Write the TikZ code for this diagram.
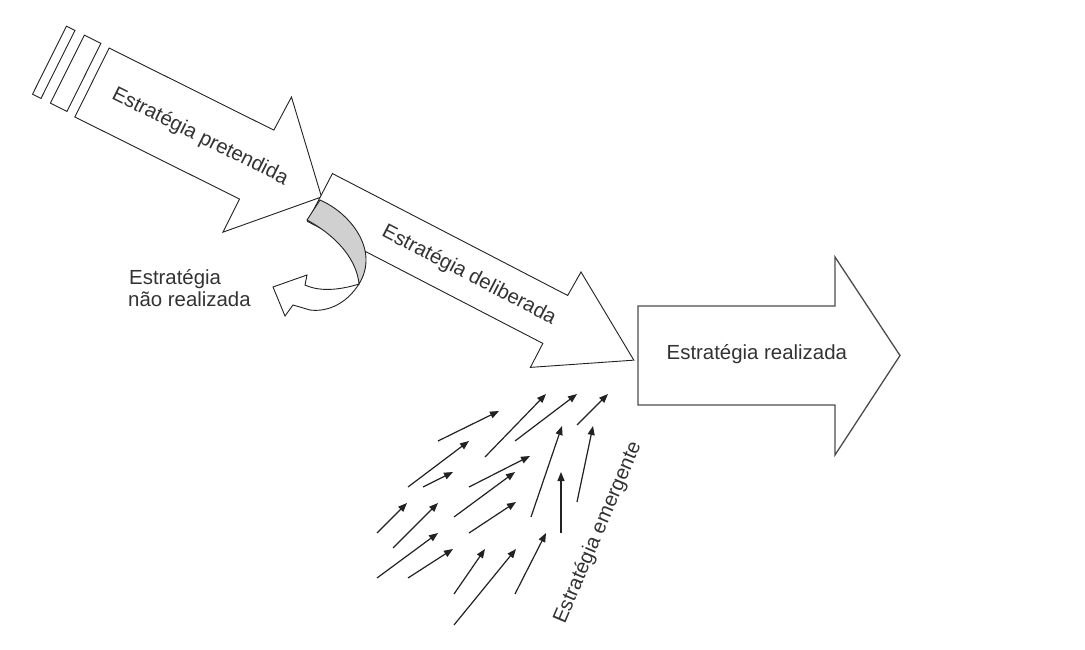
\documentclass[tikz,border=0pt]{standalone}
\usepackage{fontspec}
\setmainfont{Liberation Sans}
\usetikzlibrary{arrows.meta}
\definecolor{ink}{HTML}{222222}
\definecolor{txt}{HTML}{333333}
\definecolor{ribbon}{HTML}{D0D0D0}
\tikzset{
  blockarrow/.style={draw=ink, line width=0.9pt, fill=white, line join=miter},
  lbl/.style={font=\fontsize{20.4}{22}\selectfont, text=txt, inner sep=0pt},
  emarrow/.style={draw=ink, line width=1.2pt, -{Triangle[length=9pt,width=7pt]}},
}
\begin{document}
\begin{tikzpicture}[x=1pt,y=-1pt]
\useasboundingbox (0,0) rectangle (1085,650);
\fill[white] (0,0) rectangle (1085,650);

% Estratégia pretendida
\begin{scope}[shift={(92,82.5)}, rotate=-26.5]
  \draw[blockarrow] (-48,-39) -- (-38.5,-39) -- (-38.5,37) -- (-48,37) -- cycle;
  \draw[blockarrow] (-28,-39) -- (-9.5,-39) -- (-9.5,37) -- (-28,37) -- cycle;
  \draw[blockarrow] (0,-38.5) -- (184,-38.5) -- (185,-76) -- (256.5,0) -- (184,75.5) -- (184,38.5) -- (0,38.5) -- cycle;
  \node[lbl, anchor=base, rotate=-26.5] (pret) at (121,6) {Estratégia pretendida};
\end{scope}

% Estratégia deliberada
\begin{scope}[shift={(320,197.5)}, rotate=-27.4]
  \draw[blockarrow] (0,-27) -- (265,-27) -- (266,-54) -- (353.5,0) -- (265,54) -- (265,27) -- (0,27) -- cycle;
  \node[lbl, anchor=base, rotate=-27.4] (delib) at (168,6) {Estratégia deliberada};
\end{scope}

% Estratégia realizada
\draw[blockarrow, draw=black!70, line width=1.3pt] (638,306) -- (835,306) -- (835,257) -- (900,355.5) -- (835,455) -- (835,405) -- (638,405) -- cycle;
\node[lbl, anchor=base west] (real) at (666.5,359) {Estratégia realizada};

% não realizada: curved ribbon
\draw[blockarrow] (359,284) .. controls (345,306) and (325,312) .. (310,310) -- (293,305) -- (285,316) -- (273,287) -- (307,275) -- (305,285) .. controls (320,292) and (340,290) .. (359,284) -- cycle;
\draw[draw=ink, line width=0.9pt, fill=ribbon] (320,200) .. controls (350,213) and (380,250) .. (359,284) .. controls (357,262) and (340,238) .. (307,220) -- cycle;
\node[lbl, anchor=base west] (nr1) at (129,284.5) {Estratégia};
\node[lbl, anchor=base west] (nr2) at (128,306) {não realizada};

% Estratégia emergente
\foreach \i/\xa/\ya/\xb/\yb in {
  1/438/441/499/411, 2/485/457/546/394, 3/515/441/577/394, 4/577/425/608/394,
  5/408/487/469/441, 6/423/487/453/472, 7/469/487/530/456, 8/531/517/562/426,
  9/577/502/593/426, 10/561/533/561/472, 11/377/533/407/503, 12/393/548/438/503,
  13/454/517/515/472, 14/469/533/516/502, 15/377/578/438/533, 16/408/578/453/549,
  17/454/594/485/549, 18/454/625/516/549, 19/515/594/546/533}{
  \coordinate (e\i s) at (\xa,\ya);
  \coordinate (e\i t) at (\xb,\yb);
  \draw[emarrow] (e\i s) -- (e\i t);
}
\node[lbl, anchor=base, rotate=67] (emer) at (603,535) {Estratégia emergente};
\end{tikzpicture}
\end{document}
